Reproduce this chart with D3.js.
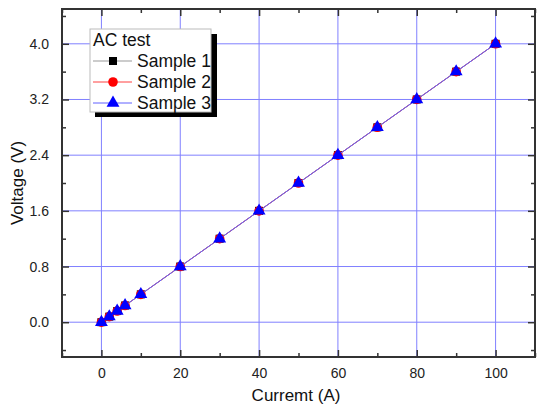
<!DOCTYPE html>
<html><head><meta charset="utf-8">
<script src="https://cdn.jsdelivr.net/npm/d3@7"></script>
<style>body{margin:0;background:#fff;} svg{display:block;font-family:"Liberation Sans",Arial,sans-serif;}</style>
</head><body>
<svg id="c" width="537" height="407"></svg>
<script>
const currents = [0, 2, 4, 6, 10, 20, 30, 40, 50, 60, 70, 80, 90, 100];
const sample1 = [0, 0.08, 0.16, 0.24, 0.4, 0.8, 1.2, 1.6, 2.0, 2.4, 2.8, 3.2, 3.6, 4.0];
const sample2 = [0, 0.08, 0.16, 0.24, 0.4, 0.8, 1.2, 1.6, 2.0, 2.4, 2.8, 3.2, 3.6, 4.0];
const sample3 = [0, 0.08, 0.16, 0.24, 0.4, 0.8, 1.2, 1.6, 2.0, 2.4, 2.8, 3.2, 3.6, 4.0];
const seriesNames = ["Sample 1", "Sample 2", "Sample 3"];
const xTicks = [0, 20, 40, 60, 80, 100];
const xMinor = [-10, 10, 30, 50, 70, 90, 110];
const yTicks = [0.0, 0.8, 1.6, 2.4, 3.2, 4.0];
const yMinor = [-0.4, 0.4, 1.2, 2.0, 2.8, 3.6, 4.4];
const legendTitle = "AC test";
const xTitle = "Curremt (A)";
const yTitle = "Voltage (V)";

const svg = d3.select("#c");
const L = 62, R = 535, T = 9, B = 357;
const x = d3.scaleLinear().domain([-10, 110]).range([L, R]);
const y = d3.scaleLinear().domain([-0.5, 4.5]).range([B, T]);

const gridColor = "#8080ff";
const g = svg.append("g");
g.selectAll(".gx").data(xTicks).join("line")
  .attr("x1", d => x(d)).attr("x2", d => x(d)).attr("y1", T).attr("y2", B)
  .attr("stroke", gridColor).attr("stroke-width", 1);
g.selectAll(".gy").data(yTicks).join("line")
  .attr("y1", d => y(d)).attr("y2", d => y(d)).attr("x1", L).attr("x2", R)
  .attr("stroke", gridColor).attr("stroke-width", 1);

const axisColor = "#333";
function styleAxis(sel) {
  sel.select(".domain").remove();
  sel.selectAll("line").attr("stroke", axisColor).attr("stroke-width", 1.5);
  sel.selectAll("text").attr("fill", "#222").style("font-size", "14px");
}
const fmt = d3.format(".1f");
svg.append("g").attr("transform", `translate(0,${B})`)
  .call(d3.axisBottom(x).tickValues(xTicks).tickSize(-7).tickPadding(11).tickFormat(d3.format("d")))
  .call(styleAxis);
svg.append("g").attr("transform", `translate(0,${B})`)
  .call(d3.axisBottom(x).tickValues(xMinor).tickSize(-4).tickFormat(""))
  .call(styleAxis);
svg.append("g").attr("transform", `translate(0,${T})`)
  .call(d3.axisTop(x).tickValues(xTicks).tickSize(-7).tickFormat(""))
  .call(styleAxis);
svg.append("g").attr("transform", `translate(0,${T})`)
  .call(d3.axisTop(x).tickValues(xMinor).tickSize(-4).tickFormat(""))
  .call(styleAxis);
svg.append("g").attr("transform", `translate(${L},0)`)
  .call(d3.axisLeft(y).tickValues(yTicks).tickSize(-7).tickPadding(13).tickFormat(fmt))
  .call(styleAxis);
svg.append("g").attr("transform", `translate(${L},0)`)
  .call(d3.axisLeft(y).tickValues(yMinor).tickSize(-4).tickFormat(""))
  .call(styleAxis);
svg.append("g").attr("transform", `translate(${R},0)`)
  .call(d3.axisRight(y).tickValues(yTicks).tickSize(-7).tickFormat(""))
  .call(styleAxis);
svg.append("g").attr("transform", `translate(${R},0)`)
  .call(d3.axisRight(y).tickValues(yMinor).tickSize(-4).tickFormat(""))
  .call(styleAxis);
svg.append("rect").attr("x", L).attr("y", T).attr("width", R - L).attr("height", B - T)
  .attr("fill", "none").attr("stroke", axisColor).attr("stroke-width", 2);

const series = [
  {name: seriesNames[0], vals: sample1, line: "#999", color: "#000", sym: d3.symbolSquare, size: 64},
  {name: seriesNames[1], vals: sample2, line: "#ff4040", color: "#f00", sym: d3.symbolCircle, size: 72},
  {name: seriesNames[2], vals: sample3, line: "#6060ff", color: "#00f", sym: d3.symbolTriangle, size: 72}
];
const line = d3.line().x(d => x(d[0])).y(d => y(d[1]));
series.forEach(s => {
  const pts = currents.map((c, i) => [c, s.vals[i]]);
  svg.append("path").datum(pts).attr("d", line).attr("fill", "none")
    .attr("stroke", s.line).attr("stroke-width", 1);
  svg.append("g").selectAll("path").data(pts).join("path")
    .attr("transform", d => `translate(${x(d[0])},${y(d[1])})`)
    .attr("d", d3.symbol().type(s.sym).size(s.size)).attr("fill", s.color);
});

const lg = svg.append("g");
lg.append("rect").attr("x", 95).attr("y", 34).attr("width", 122).attr("height", 83).attr("fill", "#000");
lg.append("rect").attr("x", 90).attr("y", 29).attr("width", 121).attr("height", 83)
  .attr("fill", "#fff").attr("stroke", "#bbb").attr("stroke-width", 1);
lg.append("text").attr("x", 93).attr("y", 46).text(legendTitle).style("font-size", "17.5px").attr("fill", "#111");
series.forEach((s, i) => {
  const yy = 61 + i * 21;
  lg.append("line").attr("x1", 93).attr("x2", 132).attr("y1", yy).attr("y2", yy)
    .attr("stroke", s.line).attr("stroke-width", 1);
  lg.append("path").attr("transform", `translate(113,${yy})`)
    .attr("d", d3.symbol().type(s.sym).size(s.size)).attr("fill", s.color);
  lg.append("text").attr("x", 137).attr("y", yy + 6).text(s.name).style("font-size", "17.5px").attr("fill", "#111");
});

svg.append("text").attr("x", 296).attr("y", 401).attr("text-anchor", "middle")
  .style("font-size", "17px").attr("fill", "#111").text(xTitle);
svg.append("text").attr("transform", `translate(23,${(T + B) / 2}) rotate(-90)`).attr("text-anchor", "middle")
  .style("font-size", "17px").attr("fill", "#111").text(yTitle);
</script>
</body></html>
